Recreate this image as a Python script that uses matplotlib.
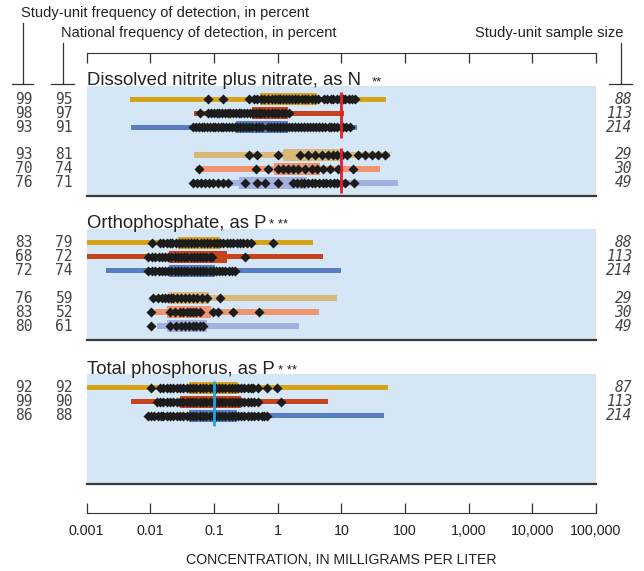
import matplotlib
matplotlib.use("Agg")
import matplotlib.pyplot as plt
from matplotlib.transforms import Affine2D, blended_transform_factory
from matplotlib.lines import Line2D
from matplotlib.ticker import NullLocator

W, H = 644, 571
plt.rcParams["font.family"] = ["Liberation Sans", "DejaVu Sans"]

TICK_VALUES = [0.001, 0.01, 0.1, 1, 10, 100, 1000, 10000, 100000]
TICK_LABELS = ["0.001", "0.01", "0.1", "1", "10", "100", "1,000", "10,000", "100,000"]

ROW_COLORS = ["#d6a21a", "#c5441c", "#587dc1", "#dab878", "#ee9570", "#a3b1e0"]
BG = "#d5e7f6"

# --- Dissolved nitrite plus nitrate, as N ---
NIT_STUDY_FREQ = [99, 98, 93, 93, 70, 76]
NIT_NATL_FREQ = [95, 97, 91, 81, 74, 71]
NIT_N = [88, 113, 214, 29, 30, 49]
NIT_LO = [0.0048, 0.049, 0.005, 0.049, 0.052, 0.045]
NIT_HI = [51, 11.1, 17.8, 59, 41, 78]
NIT_Q1 = [0.53, 0.4, 0.22, 1.22, 0.88, 0.25]
NIT_Q3 = [4.2, 1.46, 1.46, 10.3, 4.7, 2.9]
NIT_DETECTS = [
    [0.081, 0.139, 0.36, 0.42, 0.48, 0.55, 0.62, 0.7, 0.8, 0.9, 1.0, 1.1, 1.2, 1.35,
     1.5, 1.7, 1.9, 2.1, 2.4, 2.7, 3.0, 3.4, 3.8, 4.3, 5.4, 6.0, 6.8, 7.5, 8.5, 9.5,
     10.5, 11.5, 13, 14.5, 16.5],
    [0.06, 0.08, 0.09, 0.1, 0.11, 0.12, 0.135, 0.15, 0.165, 0.18, 0.2, 0.22, 0.245,
     0.27, 0.3, 0.33, 0.37, 0.41, 0.45, 0.5, 0.55, 0.62, 0.7, 0.8, 0.9, 1.0, 1.15,
     1.3, 1.48],
    [0.047, 0.052, 0.058, 0.064, 0.07, 0.078, 0.086, 0.095, 0.105, 0.115, 0.13, 0.14,
     0.155, 0.17, 0.19, 0.21, 0.23, 0.26, 0.29, 0.32, 0.36, 0.4, 0.45, 0.5, 0.56,
     0.7, 0.78, 0.87, 0.97, 1.1, 1.2, 1.35, 1.5, 1.7, 1.9, 2.1, 2.35, 2.6, 2.9, 3.2,
     3.6, 4.0, 4.5, 5.0, 5.6, 6.3, 7.0, 7.8, 8.7, 9.7, 10.8, 12, 13.8],
    [0.35, 0.48, 1.02, 2.26, 3.0, 3.9, 5.0, 6.2, 7.4, 8.7, 10.3, 12.4, 18.5, 23.8,
     30.7, 38, 49],
    [0.058, 0.46, 0.71, 1.02, 1.22, 1.46, 1.75, 2.1, 2.7, 3.5, 4.2, 5.2, 6.7, 8.9,
     15.4],
    [0.047, 0.054, 0.063, 0.073, 0.084, 0.097, 0.116, 0.139, 0.167, 0.31, 0.48, 0.64,
     1.02, 1.75, 2.0, 2.3, 2.6, 3.0, 3.4, 3.9, 4.5, 5.1, 5.8, 6.6, 7.6, 8.7, 10,
     11.4, 16],
]

# --- Orthophosphate, as P ---
OP_STUDY_FREQ = [83, 68, 72, 76, 83, 80]
OP_NATL_FREQ = [79, 72, 74, 59, 52, 61]
OP_N = [88, 113, 214, 29, 30, 49]
OP_LO = [0.0008, 0.0008, 0.002, 0.011, 0.0119, 0.0127]
OP_HI = [3.6, 5.2, 10, 8.6, 4.5, 2.2]
OP_Q1 = [0.027, 0.0197, 0.0197, 0.0197, 0.0183, 0.0183]
OP_Q3 = [0.125, 0.16, 0.104, 0.084, 0.09, 0.078]
OP_DETECTS = [
    [0.0106, 0.0142, 0.016, 0.018, 0.02, 0.022, 0.025, 0.028, 0.031, 0.035, 0.039,
     0.044, 0.049, 0.055, 0.062, 0.07, 0.078, 0.088, 0.1, 0.11, 0.125, 0.14, 0.16,
     0.18, 0.2, 0.23, 0.26, 0.29, 0.33, 0.38, 0.85],
    [0.0092, 0.0105, 0.012, 0.0135, 0.015, 0.017, 0.019, 0.021, 0.024, 0.027, 0.03,
     0.034, 0.038, 0.043, 0.048, 0.054, 0.06, 0.068, 0.076, 0.085, 0.093, 0.31],
    [0.0092, 0.0105, 0.012, 0.0135, 0.015, 0.017, 0.019, 0.021, 0.024, 0.027, 0.03,
     0.034, 0.038, 0.043, 0.048, 0.054, 0.06, 0.068, 0.076, 0.085, 0.095, 0.106,
     0.12, 0.135, 0.15, 0.17, 0.19, 0.21],
    [0.011, 0.013, 0.015, 0.017, 0.019, 0.021, 0.023, 0.026, 0.03, 0.035, 0.04,
     0.047, 0.055, 0.065, 0.077, 0.125],
    [0.0102, 0.0204, 0.024, 0.029, 0.033, 0.038, 0.042, 0.047, 0.053, 0.06, 0.097,
     0.116, 0.2, 0.51],
    [0.0102, 0.0204, 0.025, 0.03, 0.035, 0.04, 0.046, 0.053, 0.06, 0.067],
]

# --- Total phosphorus, as P ---
TP_STUDY_FREQ = [92, 99, 86]
TP_NATL_FREQ = [92, 90, 88]
TP_N = [87, 113, 214]
TP_LO = [0.0008, 0.005, 0.0092]
TP_HI = [55, 6.2, 47]
TP_Q1 = [0.0406, 0.029, 0.0406]
TP_Q3 = [0.24, 0.27, 0.23]
TP_DETECTS = [
    [0.0102, 0.0142, 0.016, 0.018, 0.02, 0.023, 0.026, 0.029, 0.033, 0.037, 0.042,
     0.047, 0.053, 0.06, 0.067, 0.075, 0.085, 0.095, 0.107, 0.12, 0.135, 0.15, 0.17,
     0.19, 0.21, 0.24, 0.27, 0.3, 0.34, 0.38, 0.41, 0.49, 0.68, 0.98],
    [0.0127, 0.0143, 0.016, 0.018, 0.02, 0.023, 0.026, 0.029, 0.033, 0.037, 0.042,
     0.047, 0.053, 0.06, 0.067, 0.075, 0.085, 0.095, 0.107, 0.12, 0.135, 0.15, 0.17,
     0.19, 0.21, 0.24, 0.27, 0.3, 0.34, 0.38, 0.43, 0.49, 1.13],
    [0.0092, 0.0103, 0.0115, 0.013, 0.0145, 0.016, 0.018, 0.02, 0.023, 0.026, 0.029,
     0.033, 0.037, 0.042, 0.047, 0.053, 0.06, 0.067, 0.075, 0.085, 0.095, 0.107,
     0.12, 0.135, 0.15, 0.17, 0.19, 0.21, 0.24, 0.27, 0.3, 0.34, 0.38, 0.43, 0.49,
     0.56, 0.62, 0.68],
]

TITLES = ["Dissolved nitrite plus nitrate, as N", "Orthophosphate, as P",
          "Total phosphorus, as P"]
STARS = ["**", "* **", "* **"]
REF_VALUES = [10, None, 0.1]
REF_COLORS = ["#e2202c", None, "#1aa6e0"]

# layout in pixels (top-left origin)
X0, X1 = 86.7, 596
PANELS_Y = [(86, 196), (229, 340), (374, 484)]
ROW_OFFSETS = [13.5, 27.5, 41.5, 69, 83, 97]
STAR_GAP = [11, 3, 4]

fig = plt.figure(figsize=(W / 100, H / 100), dpi=100)
PX = Affine2D().scale(1 / W, -1 / H).translate(0, 1) + fig.transFigure


def px_axes(x0, y0, x1, y1):
    return fig.add_axes([x0 / W, 1 - y1 / H, (x1 - x0) / W, (y1 - y0) / H])


def draw_panel(idx, study, natl, n, lo, hi, q1, q3, detects):
    top, bot = PANELS_Y[idx]
    ax = px_axes(X0, top, X1, bot)
    ax.set_xscale("log")
    ax.set_xlim(0.001, 100000)
    ax.set_ylim(bot, top)
    ax.set_facecolor(BG)
    for s in ["top", "left", "right"]:
        ax.spines[s].set_visible(False)
    ax.spines["bottom"].set_color("#3a3a3a")
    ax.spines["bottom"].set_linewidth(1.6)
    ax.set_xticks([])
    ax.xaxis.set_minor_locator(NullLocator())
    ax.set_yticks([])

    rows = [top + ROW_OFFSETS[i] for i in range(len(study))]
    tr = blended_transform_factory(PX, ax.transData)
    for i, y in enumerate(rows):
        c = ROW_COLORS[i]
        ax.barh(y, hi[i] - lo[i], left=lo[i], height=5.5, color=c, zorder=2)
        ax.barh(y, q3[i] - q1[i], left=q1[i], height=12, color=c, zorder=3)
        ax.plot(detects[i], [y] * len(detects[i]), "D", ms=5.3, color="#1c1c1c",
                mec="none", zorder=4, clip_on=False)
        ax.text(33, y, str(study[i]), transform=tr, ha="right", va="center",
                family="DejaVu Sans Mono", fontsize=10.5, color="#444444")
        ax.text(73, y, str(natl[i]), transform=tr, ha="right", va="center",
                family="DejaVu Sans Mono", fontsize=10.5, color="#444444")
        ax.text(632, y, str(n[i]), transform=tr, ha="right", va="center",
                family="DejaVu Sans Mono", style="italic", fontsize=10.5,
                color="#444444")

    ref = REF_VALUES[idx]
    if ref is not None:
        groups = [rows[i:i + 3] for i in range(0, len(rows), 3)]
        for g in groups:
            ax.vlines(ref, g[0] - 7, g[-1] + 10.5, color=REF_COLORS[idx], lw=2,
                      zorder=5)

    t = fig.text(X0 / W, 1 - (top - 0.5) / H, TITLES[idx], fontsize=13.3,
                 color="#222222", va="baseline", ha="left")
    fig.canvas.draw()
    bb = t.get_window_extent(fig.canvas.get_renderer())
    fig.text((bb.x1 + STAR_GAP[idx]) / W, 1 - (top - 0.5) / H, STARS[idx],
             fontsize=9.5, color="#222222", va="baseline", ha="left")
    return ax


draw_panel(0, NIT_STUDY_FREQ, NIT_NATL_FREQ, NIT_N, NIT_LO, NIT_HI, NIT_Q1, NIT_Q3,
           NIT_DETECTS)
draw_panel(1, OP_STUDY_FREQ, OP_NATL_FREQ, OP_N, OP_LO, OP_HI, OP_Q1, OP_Q3,
           OP_DETECTS)
draw_panel(2, TP_STUDY_FREQ, TP_NATL_FREQ, TP_N, TP_LO, TP_HI, TP_Q1, TP_Q3,
           TP_DETECTS)

# top tick strip
ax_t = px_axes(X0, 53, X1, 63)
ax_t.set_xscale("log")
ax_t.set_xlim(0.001, 100000)
ax_t.patch.set_visible(False)
for s in ["bottom", "left", "right"]:
    ax_t.spines[s].set_visible(False)
ax_t.spines["top"].set_color("#333333")
ax_t.xaxis.set_ticks_position("top")
ax_t.set_xticks(TICK_VALUES)
ax_t.xaxis.set_minor_locator(NullLocator())
ax_t.tick_params(axis="x", direction="in", length=7.2, width=0.9, color="#333333",
                 labeltop=False)
ax_t.set_yticks([])

# bottom tick strip with labels
ax_b = px_axes(X0, 503, X1, 513)
ax_b.set_xscale("log")
ax_b.set_xlim(0.001, 100000)
ax_b.patch.set_visible(False)
for s in ["top", "left", "right"]:
    ax_b.spines[s].set_visible(False)
ax_b.spines["bottom"].set_color("#333333")
ax_b.set_xticks(TICK_VALUES)
ax_b.set_xticklabels(TICK_LABELS)
ax_b.xaxis.set_minor_locator(NullLocator())
ax_b.tick_params(axis="x", direction="in", length=7.2, width=0.9, color="#333333",
                 labelsize=10.3, labelcolor="#222222", pad=8)
ax_b.set_yticks([])

fig.text(341 / W, 1 - 560 / H, "CONCENTRATION, IN MILLIGRAMS PER LITER",
         fontsize=10.2, color="#222222", ha="center", va="center")

# column headers
fig.text(21 / W, 1 - 13 / H, "Study-unit frequency of detection, in percent",
         fontsize=10.5, color="#222222", ha="left", va="center")
fig.text(61 / W, 1 - 33 / H, "National frequency of detection, in percent",
         fontsize=10.5, color="#222222", ha="left", va="center")
fig.text(623 / W, 1 - 33 / H, "Study-unit sample size",
         fontsize=10.5, color="#222222", ha="right", va="center")

HEADER_STEMS = [(22.7, 23, 12, 33), (63, 43, 51, 74), (621, 43, 609, 632)]
for x, ytop, hx0, hx1 in HEADER_STEMS:
    fig.add_artist(Line2D([x, x], [ytop, 84], transform=PX, color="#333333", lw=0.9))
    fig.add_artist(Line2D([hx0, hx1], [84, 84], transform=PX, color="#333333", lw=0.9))

fig.savefig("out.png", dpi=100)
